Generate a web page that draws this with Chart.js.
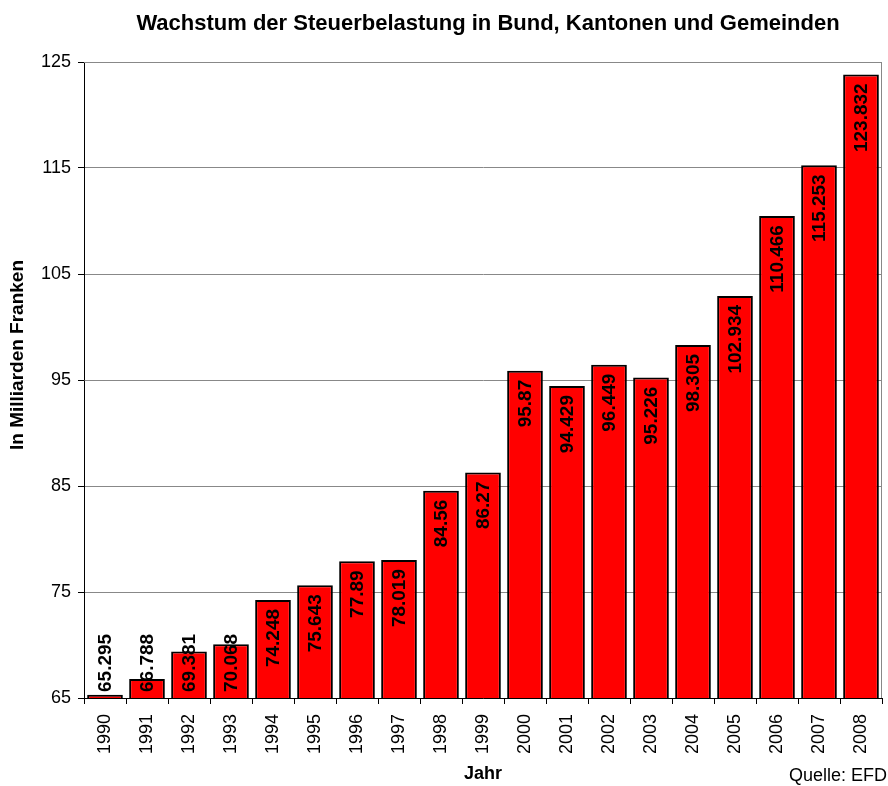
<!DOCTYPE html>
<html>
<head>
<meta charset="utf-8">
<script src="https://cdn.jsdelivr.net/npm/chart.js@4"></script>
<style>
  html, body { margin: 0; padding: 0; background: #fff; }
  #wrap { width: 888px; height: 786px; }
</style>
</head>
<body>
<div id="wrap"><canvas id="myChart" width="888" height="786"></canvas></div>
<script>
// data
const years = ['1990','1991','1992','1993','1994','1995','1996','1997','1998','1999',
  '2000','2001','2002','2003','2004','2005','2006','2007','2008'];
const steuern = [65.295, 66.788, 69.381, 70.068, 74.248, 75.643, 77.89, 78.019, 84.56, 86.27,
  95.87, 94.429, 96.449, 95.226, 98.305, 102.934, 110.466, 115.253, 123.832];
const yMin = 65, yMax = 125, yStep = 10;

const fam = '"Liberation Sans", Arial, sans-serif';

// value labels, rotated, inside the bar end (pushed down to the base if too long)
let barLabels = {
  id: 'barLabels',
  afterDatasetsDraw(chart) {
    let ctx = chart.ctx;
    let meta = chart.getDatasetMeta(0);
    let base = chart.scales.y.getPixelForValue(yMin);
    ctx.save();
    ctx.font = 'bold 19px ' + fam;
    ctx.fillStyle = '#000';
    ctx.textBaseline = 'middle';
    ctx.textAlign = 'left';
    meta.data.forEach(function(bar, i) {
      let txt = String(steuern[i]);
      let w = ctx.measureText(txt).width;
      let start = bar.y + 9 + w;
      if (start > base - 6) start = base - 6;
      ctx.save();
      ctx.translate(bar.x + 1, start);
      ctx.rotate(-Math.PI / 2);
      ctx.fillText(txt, 0, 0);
      ctx.restore();
    });
    ctx.restore();
  }
};

// grey frame top/right, titles and source note
let extras = {
  id: 'extras',
  beforeDatasetsDraw(chart) {
    let a = chart.chartArea, ctx = chart.ctx;
    ctx.save();
    ctx.strokeStyle = '#888';
    ctx.lineWidth = 1;
    ctx.beginPath();
    ctx.moveTo(a.left, a.top + 0.5);
    ctx.lineTo(a.right - 0.5, a.top + 0.5);
    ctx.lineTo(a.right - 0.5, a.bottom);
    ctx.stroke();
    ctx.restore();
  },
  afterDraw(chart) {
    let ctx = chart.ctx;
    ctx.save();
    ctx.fillStyle = '#000';
    ctx.textBaseline = 'middle';
    ctx.font = 'bold 22px ' + fam;
    ctx.textAlign = 'center';
    ctx.fillText('Wachstum der Steuerbelastung in Bund, Kantonen und Gemeinden', 488, 24);
    ctx.font = 'bold 18px ' + fam;
    ctx.fillText('Jahr', 483, 774);
    ctx.save();
    ctx.translate(18, 355);
    ctx.rotate(-Math.PI / 2);
    ctx.font = 'bold 19px ' + fam;
    ctx.fillText('In Milliarden Franken', 0, 0);
    ctx.restore();
    ctx.font = '18px ' + fam;
    ctx.textAlign = 'right';
    ctx.fillText('Quelle: EFD', 887, 776);
    ctx.restore();
  }
};

new Chart(document.getElementById('myChart'), {
  type: 'bar',
  data: {
    labels: years,
    datasets: [{
      label: 'Steuerbelastung',
      data: steuern,
      backgroundColor: '#ff0000',
      borderColor: '#000',
      borderWidth: 2,
      borderSkipped: false,
      barPercentage: 0.85,
      categoryPercentage: 1
    }]
  },
  options: {
    responsive: false,
    animation: false,
    layout: { padding: { top: 62, right: 6, left: 0, bottom: 0 } },
    plugins: {
      legend: { display: false },
      tooltip: { enabled: false }
    },
    scales: {
      x: {
        offset: true,
        grid: { offset: true, drawOnChartArea: false, tickLength: 6, color: '#000', tickColor: '#000' },
        border: { color: '#000', width: 1 },
        ticks: { color: '#000', font: { family: fam, size: 18 }, minRotation: 90, maxRotation: 90, padding: 10, autoSkip: false },
        afterFit(s) { s.height = 88; s.paddingLeft = 0; s.paddingRight = 0; }
      },
      y: {
        min: yMin,
        max: yMax,
        ticks: { stepSize: yStep, color: '#000', font: { family: fam, size: 18 }, padding: 7 },
        grid: { color: '#888', tickColor: '#000', tickLength: 6 },
        border: { color: '#000', width: 1 },
        afterFit(s) { s.width = 84; s.paddingTop = 0; s.paddingBottom = 0; }
      }
    }
  },
  plugins: [barLabels, extras]
});
</script>
</body>
</html>
